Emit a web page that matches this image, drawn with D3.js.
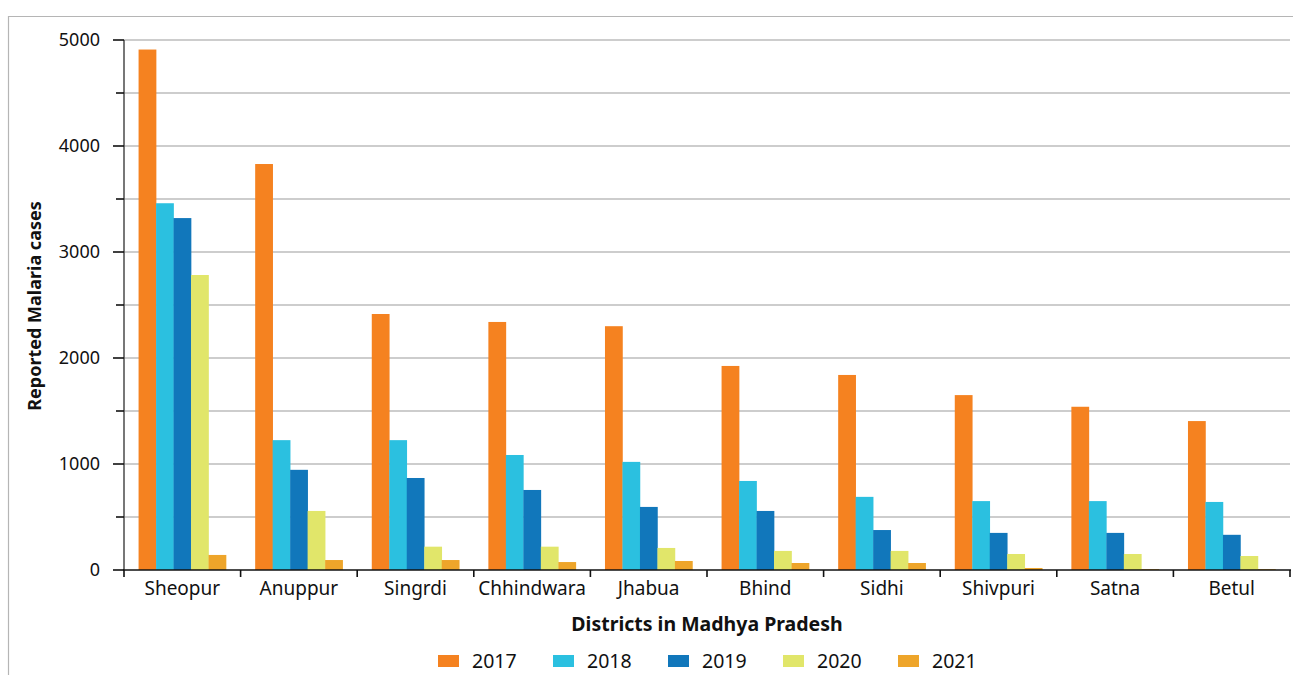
<!DOCTYPE html>
<html>
<head>
<meta charset="utf-8">
<script src="https://cdn.jsdelivr.net/npm/d3@7"></script>
<style>
  body { margin: 0; background: #fff; }
  svg text { font-family: "Noto Sans", "Open Sans", sans-serif; fill: #111; }
</style>
</head>
<body>
<svg id="chart" width="1294" height="675"></svg>
<script>
"use strict"
var districts = ["Sheopur","Anuppur","Singrdi","Chhindwara","Jhabua","Bhind","Sidhi","Shivpuri","Satna","Betul"];
var years = ["2017","2018","2019","2020","2021"];
var cases2017 = [4910, 3830, 2415, 2340, 2300, 1925, 1840, 1650, 1540, 1405];
var cases2018 = [3460, 1225, 1225, 1085, 1020, 840, 690, 650, 650, 642];
var cases2019 = [3320, 945, 868, 755, 595, 557, 377, 350, 350, 332];
var cases2020 = [2783, 557, 220, 220, 208, 180, 180, 151, 151, 132];
var cases2021 = [142, 94, 94, 75, 85, 66, 66, 19, 8, 8];
var colours = ["#F58220", "#2BC0E0", "#1177BB", "#E1E66A", "#EEA52A"];
var yTicks = [0, 1000, 2000, 3000, 4000, 5000];

var series = [cases2017, cases2018, cases2019, cases2020, cases2021];

var svg = d3.select("svg#chart");
var mLeft = 124, mRight = 1290, mTop = 40, mBottom = 570;

// outer frame
svg.append("path")
    .attr("d", "M8.5,680 V16.5 H1293")
    .attr("fill", "none")
    .attr("stroke", "#b5b5b5")
    .attr("stroke-width", 1.2);

var x0 = d3.scaleBand()
    .domain(districts)
    .range([mLeft, mRight])
    .paddingInner(0.25)
    .paddingOuter(0.125);

var x1 = d3.scaleBand()
    .domain(years)
    .range([0, x0.bandwidth()]);

var y = d3.scaleLinear()
    .domain([0, 5000])
    .range([mBottom, mTop]);

// gridlines every 500
svg.append("g")
  .selectAll("line")
    .data(d3.range(500, 5001, 500))
  .enter().append("line")
    .attr("x1", mLeft).attr("x2", mRight)
    .attr("y1", function(d){ return y(d); })
    .attr("y2", function(d){ return y(d); })
    .attr("stroke", "#bdbdbd")
    .attr("stroke-width", 1.5);

// bars
var groups = svg.append("g")
  .selectAll("g")
    .data(districts)
  .enter().append("g")
    .attr("transform", function(d){ return "translate(" + x0(d) + ",0)"; });

groups.selectAll("rect")
    .data(function(d, i){ return years.map(function(yr, k){ return {year: yr, k: k, v: series[k][i]}; }); })
  .enter().append("rect")
    .attr("x", function(d){ return x1(d.year); })
    .attr("width", x1.bandwidth() + 0.3)
    .attr("y", function(d){ return y(d.v); })
    .attr("height", function(d){ return mBottom - y(d.v); })
    .attr("fill", function(d){ return colours[d.k]; });

// y axis
var yAxis = svg.append("g")
    .attr("transform", "translate(" + mLeft + ",0)");
yAxis.append("line")
    .attr("x1", 0).attr("x2", 0)
    .attr("y1", mTop).attr("y2", mBottom)
    .attr("stroke", "#555").attr("stroke-width", 1.6);
yAxis.selectAll("line.tk")
    .data(d3.range(0, 5001, 500))
  .enter().append("line")
    .attr("class", "tk")
    .attr("x1", function(d){ return d % 1000 == 0 ? -11 : -8; })
    .attr("x2", 0)
    .attr("y1", function(d){ return y(d); })
    .attr("y2", function(d){ return y(d); })
    .attr("stroke", "#111").attr("stroke-width", 1.6);
yAxis.selectAll("text")
    .data(yTicks)
  .enter().append("text")
    .attr("x", -24)
    .attr("y", function(d){ return y(d); })
    .attr("dy", "0.36em")
    .attr("text-anchor", "end")
    .style("font-size", "18px")
    .text(function(d){ return d; });

// x axis
var xAxis = svg.append("g");
xAxis.append("line")
    .attr("x1", mLeft - 1).attr("x2", mRight + 1)
    .attr("y1", mBottom).attr("y2", mBottom)
    .attr("stroke", "#111").attr("stroke-width", 1.6);
xAxis.selectAll("line.tk")
    .data(d3.range(districts.length + 1))
  .enter().append("line")
    .attr("class", "tk")
    .attr("x1", function(i){ return mLeft + i * x0.step(); })
    .attr("x2", function(i){ return mLeft + i * x0.step(); })
    .attr("y1", mBottom).attr("y2", mBottom + 7)
    .attr("stroke", "#111").attr("stroke-width", 1.6);
xAxis.selectAll("text")
    .data(districts)
  .enter().append("text")
    .attr("x", function(d){ return x0(d) + x0.bandwidth() / 2; })
    .attr("y", 595)
    .attr("text-anchor", "middle")
    .style("font-size", "19px")
    .text(function(d){ return d; });

// titles
svg.append("text")
    .attr("x", 707).attr("y", 631)
    .attr("text-anchor", "middle")
    .style("font-size", "19.5px").style("font-weight", "bold")
    .text("Districts in Madhya Pradesh");

svg.append("text")
    .attr("transform", "translate(41,306) rotate(-90)")
    .attr("text-anchor", "middle")
    .style("font-size", "18px").style("font-weight", "bold")
    .text("Reported Malaria cases");

// legend
var legend = svg.append("g")
  .selectAll("g")
    .data(years)
  .enter().append("g")
    .attr("transform", function(d, i){ return "translate(" + (438 + i * 115) + ",655)"; });
legend.append("rect")
    .attr("width", 21).attr("height", 12)
    .attr("fill", function(d, i){ return colours[i]; });
legend.append("text")
    .attr("x", 34).attr("y", 13)
    .style("font-size", "19.5px")
    .text(function(d){ return d; });
</script>
</body>
</html>
